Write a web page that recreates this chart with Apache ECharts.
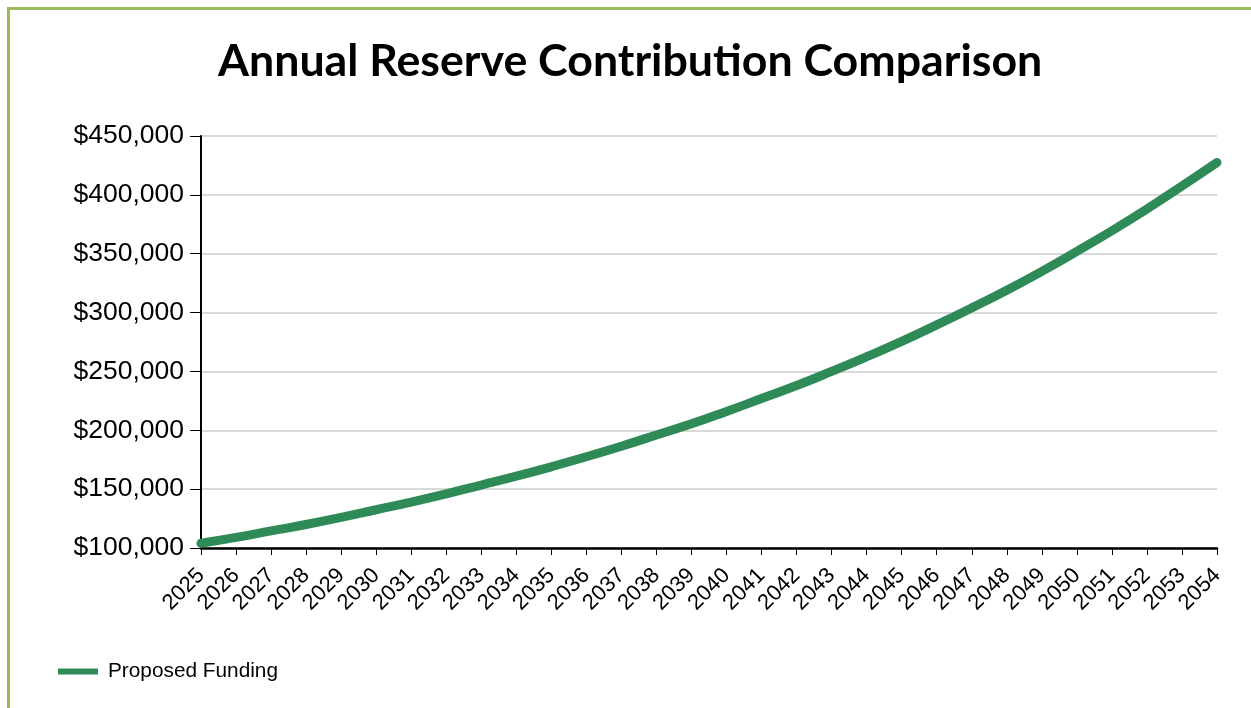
<!DOCTYPE html>
<html><head><meta charset="utf-8">
<script src="https://cdn.jsdelivr.net/npm/echarts@6/dist/echarts.min.js"></script>
<style>
html,body{margin:0;padding:0;background:#fff;}
#frame{position:absolute;left:7px;top:7px;width:1244px;height:701px;border-left:3px solid #9bbb59;border-top:3px solid #9bbb59;box-sizing:border-box;}
#chart{position:absolute;left:0;top:0;width:1251px;height:708px;}
</style></head>
<body>
<div id="frame"></div>
<div id="chart"></div>
<script>
const years = ['2025','2026','2027','2028','2029','2030','2031','2032','2033','2034','2035','2036','2037','2038','2039','2040','2041','2042','2043','2044','2045','2046','2047','2048','2049','2050','2051','2052','2053','2054'];
const proposedFunding = [104000,109000,114500,120000,126000,132500,139000,146000,153500,161000,169000,177500,186500,196000,205500,216000,227000,238000,250000,262500,275500,289500,304000,319000,335000,352000,369500,388000,407500,427500];
const seriesName = 'Proposed Funding';
const chartTitle = 'Annual Reserve Contribution Comparison';

const chart = echarts.init(document.getElementById('chart'));
chart.setOption({
  animation:false,
  title:{text:chartTitle,left:213,top:34,textStyle:{fontFamily:'Lato',fontWeight:'bold',fontSize:44.7,color:'#000'}},
  legend:{left:53,bottom:21,itemWidth:40,itemHeight:6,icon:'rect',textStyle:{fontFamily:'Liberation Sans',fontSize:20.8,color:'#000',padding:[0,0,0,5]},data:[seriesName]},
  grid:{left:201,right:34,top:136,bottom:160},
  xAxis:{type:'category',data:years,boundaryGap:false,
    axisLine:{lineStyle:{color:'#000',width:2.5}},
    axisTick:{show:true,length:7,lineStyle:{color:'#000',width:1}},
    axisLabel:{rotate:45,fontFamily:'Liberation Sans',fontSize:22,color:'#000',margin:24,interval:0}},
  yAxis:{type:'value',min:100000,max:450000,interval:50000,
    axisLine:{show:true,lineStyle:{color:'#000',width:2}},
    axisTick:{show:true,length:11,lineStyle:{color:'#000'}},
    splitLine:{lineStyle:{color:'#d9d9d9',width:2}},
    axisLabel:{fontFamily:'Liberation Sans',fontSize:26.5,color:'#000',margin:17,
      formatter:v=>'$'+v.toLocaleString('en-US')}},
  series:[{name:seriesName,type:'line',data:proposedFunding,showSymbol:false,smooth:true,
    lineStyle:{color:'#2e8b57',width:9,cap:'round'},itemStyle:{color:'#2e8b57'}}]
});
</script>
</body></html>
